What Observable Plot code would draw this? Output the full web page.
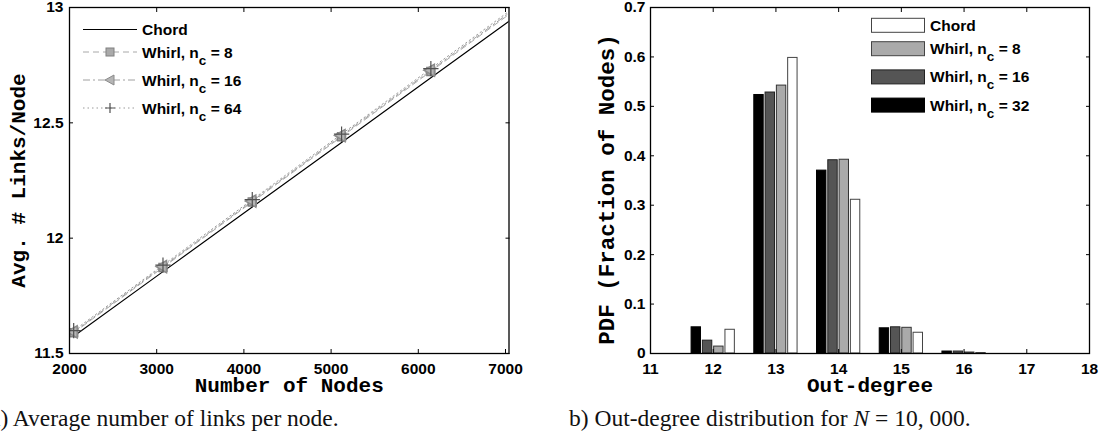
<!DOCTYPE html>
<html><head><meta charset="utf-8">
<script src="https://cdn.jsdelivr.net/npm/d3@7"></script>
<script src="https://cdn.jsdelivr.net/npm/@observablehq/plot@0.6"></script>
<style>
body{margin:0;background:#fff;}
#wrap{position:relative;width:1100px;height:439px;overflow:hidden;background:#fff;}
.panel{position:absolute;top:0;}
.overlay{position:absolute;top:0;pointer-events:none;}
.cap{position:absolute;top:405px;font-family:"Liberation Serif","DejaVu Serif",serif;font-size:23.5px;line-height:27px;white-space:nowrap;color:#111;}
#wrap svg g[aria-label="x-axis tick label"] text,
#wrap svg g[aria-label="y-axis tick label"] text{font-family:"Liberation Sans",Arial,sans-serif !important;font-weight:bold !important;font-size:15.5px !important;fill:#000;}
</style></head>
<body><div id="wrap"></div>
<script>
// ---- Data: panel a ----
const nodes = [2048, 3072, 4096, 5120, 6144, 7168];
const chordLinks   = [11.575, 11.855, 12.135, 12.415, 12.695, 12.975];
const whirl8Links  = [11.590, 11.873, 12.157, 12.440, 12.723, 13.005];
const whirl16Links = [11.594, 11.877, 12.161, 12.445, 12.728, 13.011];
const whirl64Links = [11.599, 11.883, 12.167, 12.451, 12.735, 13.019];
const nodeTicks = [2000, 3000, 4000, 5000, 6000, 7000];
const linkTicks = [11.5, 12, 12.5, 13];

// ---- Data: panel b ----
const degrees    = [12, 13, 14, 15, 16];
const whirl32Pdf = [0.053, 0.523, 0.370, 0.051, 0.004];
const whirl16Pdf = [0.026, 0.528, 0.391, 0.053, 0.004];
const whirl8Pdf  = [0.014, 0.542, 0.392, 0.052, 0.002];
const chordPdf   = [0.048, 0.598, 0.311, 0.042, 0.001];
const degreeTicks = [11, 12, 13, 14, 15, 16, 17, 18];
const pdfTicks = [0, 0.1, 0.2, 0.3, 0.4, 0.5, 0.6, 0.7];

const wrap = document.getElementById("wrap");
const baseStyle = {fontFamily: "'Liberation Sans', Arial, sans-serif", fontSize: "15px", fontWeight: "bold", color: "black", background: "white", overflow: "visible"};
const tickFont = {fontFamily: "'Liberation Sans', Arial, sans-serif", fontSize: 15.5, fontWeight: "bold"};
const labelFont = {fontFamily: "'Liberation Mono', 'Courier New', monospace", fontWeight: "bold", fill: "black", fontSize: 21};

// ---------- Panel a ----------
const rows = (vals) => nodes.map((n, i) => ({n, v: vals[i]}));
const chordRows = rows(chordLinks), w8Rows = rows(whirl8Links), w16Rows = rows(whirl16Links), w64Rows = rows(whirl64Links);

const plotA = Plot.plot({
  width: 540, height: 400,
  marginLeft: 69, marginRight: 31.5, marginTop: 7, marginBottom: 47,
  style: baseStyle,
  x: {domain: [2000, 7040]},
  y: {domain: [11.5, 13]},
  marks: [
    Plot.line(w64Rows, {x: "n", y: "v", stroke: "#9a9a9a", strokeWidth: 1, strokeDasharray: "1.5,3", clip: true}),
    Plot.line(w16Rows, {x: "n", y: "v", stroke: "#a0a0a0", strokeWidth: 1, strokeDasharray: "7,3,2,3", clip: true}),
    Plot.line(w8Rows, {x: "n", y: "v", stroke: "#a8a8a8", strokeWidth: 1, strokeDasharray: "6,4", clip: true}),
    Plot.line(chordRows, {x: "n", y: "v", stroke: "black", strokeWidth: 1.2, clip: true}),
    Plot.dot(w8Rows, {x: "n", y: "v", symbol: "square", r: 4.5, fill: "#aaaaaa", stroke: "#808080", clip: true}),
    Plot.dot(w16Rows, {x: "n", y: "v", symbol: "triangle", rotate: -90, r: 4.5, fill: "#b5b5b5", stroke: "#8a8a8a", clip: true}),
    Plot.dot(w64Rows, {x: "n", y: "v", symbol: "plus", r: 5, stroke: "#505050", strokeWidth: 1.2, clip: true}),
    Plot.frame({stroke: "black", strokeWidth: 1.3}),
    Plot.axisX({ticks: nodeTicks, tickSize: -4, tickPadding: 13, tickFormat: d => String(d), label: null, ...tickFont}),
    Plot.axisX({anchor: "top", ticks: nodeTicks, tickSize: -4, tickFormat: () => "", label: null}),
    Plot.axisY({ticks: linkTicks, tickSize: -4, tickPadding: 10, tickFormat: d => String(d), label: null, ...tickFont}),
    Plot.axisY({anchor: "right", ticks: linkTicks, tickSize: -4, tickFormat: () => "", label: null}),
    Plot.text(["Number of Nodes"], {frameAnchor: "bottom", dy: 38, ...labelFont}),
    Plot.text(["Avg. # Links/Node"], {frameAnchor: "left", rotate: -90, textAnchor: "middle", lineAnchor: "middle", dx: -51, ...labelFont})
  ]
});
plotA.classList.add("panel");
plotA.style.left = "0px";
wrap.appendChild(plotA);

// ---------- Panel b ----------
const groupStep = 0.18, barW = 0.15;
const pdfSeries = [
  {name: "Whirl32", vals: whirl32Pdf, fill: "#000000", stroke: "#000000"},
  {name: "Whirl16", vals: whirl16Pdf, fill: "#555555", stroke: "#222222"},
  {name: "Whirl8",  vals: whirl8Pdf,  fill: "#aaaaaa", stroke: "#333333"},
  {name: "Chord",   vals: chordPdf,   fill: "#ffffff", stroke: "#444444"}
];
const barRows = [];
pdfSeries.forEach((s, k) => {
  degrees.forEach((d, i) => {
    const c = d + (k - 1.5) * groupStep;
    barRows.push({x1: c - barW / 2, x2: c + barW / 2, y: s.vals[i], fill: s.fill, stroke: s.stroke});
  });
});

const plotB = Plot.plot({
  width: 560, height: 400,
  marginLeft: 110, marginRight: 11, marginTop: 7, marginBottom: 47,
  style: baseStyle,
  x: {domain: [11, 18]},
  y: {domain: [0, 0.7]},
  marks: [
    Plot.rectY(barRows, {x1: "x1", x2: "x2", y: "y", fill: d => d.fill, stroke: d => d.stroke, strokeWidth: 1}),
    Plot.frame({stroke: "black", strokeWidth: 1.3}),
    Plot.axisX({ticks: degreeTicks, tickSize: -4, tickPadding: 13, tickFormat: d => String(d), label: null, ...tickFont}),
    Plot.axisX({anchor: "top", ticks: degreeTicks, tickSize: -4, tickFormat: () => "", label: null}),
    Plot.axisY({ticks: pdfTicks, tickSize: -4, tickPadding: 9, tickFormat: d => d === 0 ? "0" : d.toFixed(1), label: null, ...tickFont}),
    Plot.axisY({anchor: "right", ticks: pdfTicks, tickSize: -4, tickFormat: () => "", label: null}),
    Plot.text(["Out-degree"], {frameAnchor: "bottom", dy: 38, ...labelFont}),
    Plot.text(["PDF (Fraction of Nodes)"], {frameAnchor: "left", rotate: -90, textAnchor: "middle", lineAnchor: "middle", dx: -44, dy: 9, ...labelFont, fontSize: 22.5})
  ]
});
plotB.classList.add("panel");
plotB.style.left = "540px";
wrap.appendChild(plotB);

// ---------- Legends (overlay SVGs) ----------
const NS = "http://www.w3.org/2000/svg";
function mk(tag, attrs, parent) {
  const e = document.createElementNS(NS, tag);
  for (const k in attrs) e.setAttribute(k, attrs[k]);
  if (parent) parent.appendChild(e);
  return e;
}
function legendLabel(g, x, y, main, sub, rest) {
  const t = mk("text", {x, y, "font-family": "'Liberation Sans', Arial, sans-serif", "font-size": 15.5, "font-weight": "bold", fill: "black"}, g);
  t.appendChild(document.createTextNode(main));
  if (sub) {
    const s = mk("tspan", {dy: 7, "font-size": 13.5}, t); s.textContent = sub;
    const r = mk("tspan", {dy: -7}, t); r.textContent = rest;
  }
}
const legendY = (i, first, second, gap) => i === 0 ? first : second + (i - 1) * gap;

// Panel a legend
const legA = mk("svg", {width: 540, height: 400, class: "overlay"});
legA.style.left = "0px";
const itemsA = [
  {main: "Chord", sub: "", rest: "", stroke: "black", dash: null, sym: null},
  {main: "Whirl, n", sub: "c", rest: " = 8", stroke: "#a8a8a8", dash: "6,4", sym: "square"},
  {main: "Whirl, n", sub: "c", rest: " = 16", stroke: "#a0a0a0", dash: "7,3,2,3", sym: "triangle"},
  {main: "Whirl, n", sub: "c", rest: " = 64", stroke: "#9a9a9a", dash: "1.5,3", sym: "plus"}
];
itemsA.forEach((it, i) => {
  const y = legendY(i, 29.5, 52, 28);
  mk("line", {x1: 83, x2: 137, y1: y, y2: y, stroke: it.stroke, "stroke-width": it.dash ? 1 : 1.2, "stroke-dasharray": it.dash || "none"}, legA);
  if (it.sym === "square") mk("rect", {x: 106, y: y - 4, width: 8, height: 8, fill: "#aaaaaa", stroke: "#808080"}, legA);
  if (it.sym === "triangle") mk("path", {d: `M105,${y} L114,${y - 5} L114,${y + 5} Z`, fill: "#b5b5b5", stroke: "#8a8a8a"}, legA);
  if (it.sym === "plus") mk("path", {d: `M110,${y - 5} V${y + 5} M105,${y} H115`, stroke: "#505050", "stroke-width": 1.2, fill: "none"}, legA);
  legendLabel(legA, 142, y + 5.5, it.main, it.sub, it.rest);
});
wrap.appendChild(legA);

// Panel b legend
const legB = mk("svg", {width: 560, height: 400, class: "overlay"});
legB.style.left = "540px";
const itemsB = [
  {main: "Chord", sub: "", rest: "", fill: "#ffffff", stroke: "#444444"},
  {main: "Whirl, n", sub: "c", rest: " = 8", fill: "#aaaaaa", stroke: "#444444"},
  {main: "Whirl, n", sub: "c", rest: " = 16", fill: "#555555", stroke: "#222222"},
  {main: "Whirl, n", sub: "c", rest: " = 32", fill: "#000000", stroke: "#000000"}
];
itemsB.forEach((it, i) => {
  const y = legendY(i, 25.3, 48.7, 28.2);
  mk("rect", {x: 331.5, y: y - 7, width: 53, height: 14, fill: it.fill, stroke: it.stroke}, legB);
  legendLabel(legB, 390, y + 5.5, it.main, it.sub, it.rest);
});
wrap.appendChild(legB);

// ---------- Captions ----------
const capA = document.createElement("div");
capA.className = "cap"; capA.style.left = "-10px";
capA.textContent = "a) Average number of links per node.";
wrap.appendChild(capA);
const capB = document.createElement("div");
capB.className = "cap"; capB.style.left = "569px";
capB.innerHTML = "b) Out-degree distribution for <i>N</i> = 10, 000.";
wrap.appendChild(capB);
</script></body></html>
